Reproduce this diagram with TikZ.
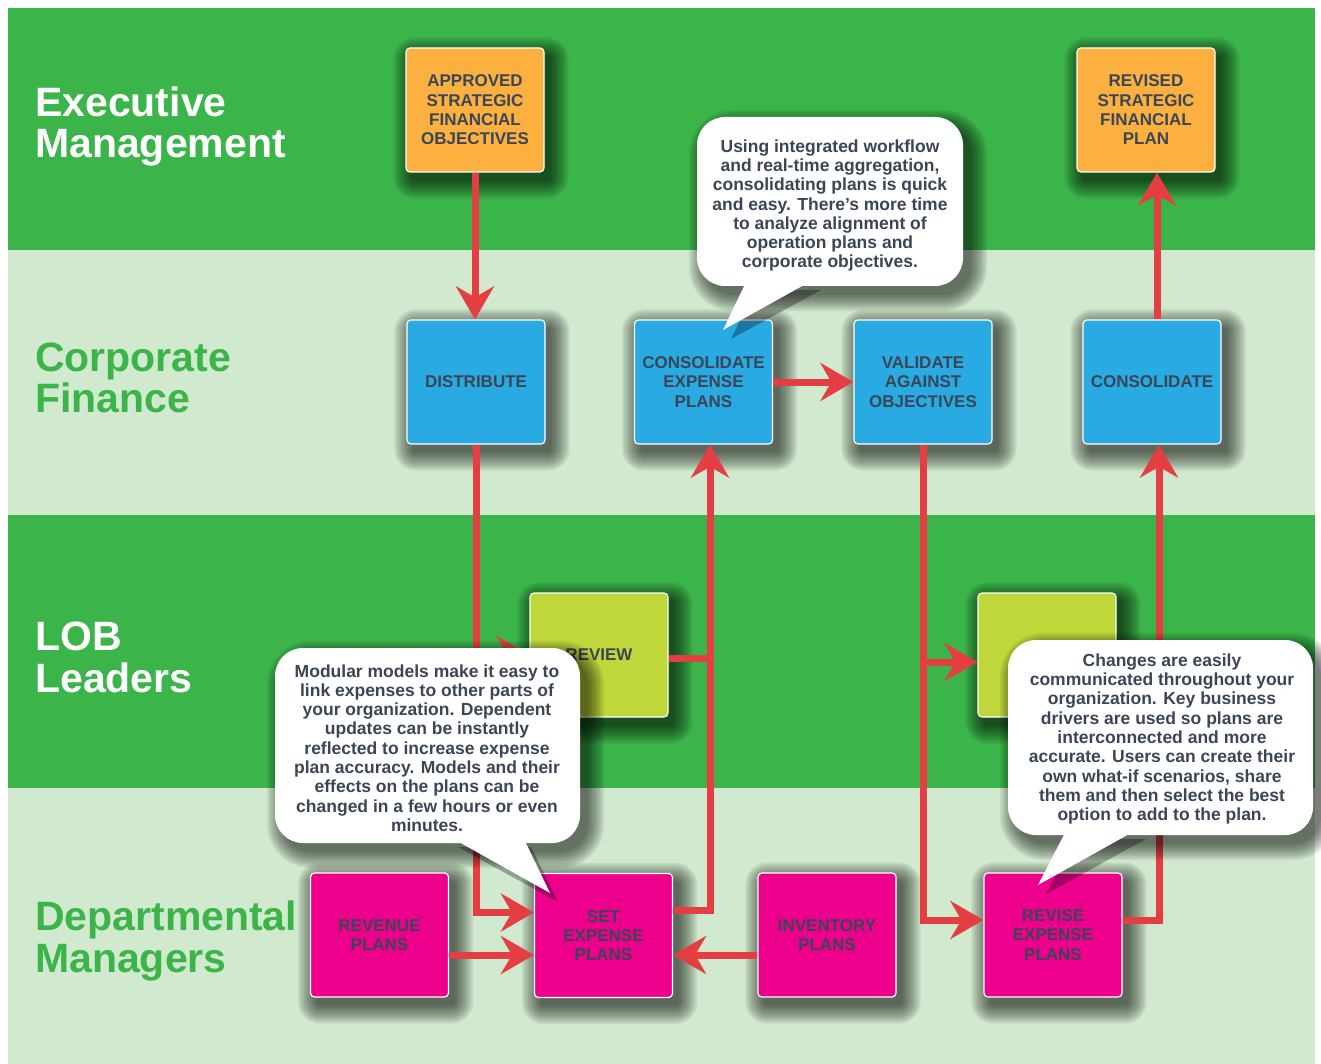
\documentclass[tikz,border=0pt]{standalone}
\usepackage{fontspec}
\setmainfont{Liberation Sans}
\newfontface\heavyfont{Liberation Sans Bold}
\newfontface\labelfont{Liberation Sans Bold}
\usetikzlibrary{arrows.meta,calc}

\definecolor{dkgreen}{RGB}{59,181,74}
\definecolor{ltgreen}{RGB}{209,233,206}
\definecolor{orangebox}{RGB}{251,176,64}
\definecolor{bluebox}{RGB}{41,170,226}
\definecolor{limebox}{RGB}{191,215,59}
\definecolor{magbox}{RGB}{236,0,140}
\definecolor{slate}{RGB}{58,70,86}
\definecolor{arrred}{RGB}{229,62,66}

\pgfdeclarelayer{lanes}
\pgfdeclarelayer{shadows}
\pgfsetlayers{lanes,shadows,main}

% soft shadow behind a named box
\newcommand\boxshadow[1]{%
  \begin{pgfonlayer}{shadows}
  \foreach \r in {0,2,...,18}{%
    \fill[shadowlayer, rounded corners=4pt+\r pt]
      ([xshift=6pt-\r pt,yshift=-8pt+\r pt]#1.north west) rectangle
      ([xshift=6pt+\r pt,yshift=-8pt-\r pt]#1.south east);}
  \end{pgfonlayer}}
% soft shadow of a callout rectangle (x0,y0,x1,y1 with y downwards)
\newcommand\bubbleshadow[4]{%
  \foreach \r in {0,2,...,16}{%
    \fill[shadowlayer, rounded corners=28pt+\r pt]
      (#1+8-\r,#2+9-\r) rectangle (#3+8+\r,#4+9+\r);}}

\begin{document}
\begin{tikzpicture}[x=1pt,y=-1pt,
  lane/.style={fill=#1, draw=none},
  lanelabel/.style={anchor=base west, inner sep=0pt, font=\labelfont\fontsize{41}{41}\selectfont, text=#1},
  stepbox/.style={draw=white, line width=1.2pt, rounded corners=4pt, fill=#1,
    minimum width=138pt, minimum height=124pt, inner sep=0pt, align=center,
    text=slate, font=\heavyfont\fontsize{17}{19.3}\selectfont},
  shadowlayer/.style={fill=black, opacity=0.075},
  flow/.style={draw=arrred, line width=7pt, -{Stealth[length=33pt,width=38pt,inset=11pt]}},
  joinline/.style={draw=arrred, line width=7pt},
  bubble/.style={fill=white, draw=none},
  bubbletext/.style={align=center, text=slate, inner sep=0pt, font=\heavyfont\fontsize{17.5}{19.3}\selectfont}
]
\useasboundingbox (0,0) rectangle (1321,1064);

% lanes
\begin{pgfonlayer}{lanes}
\fill[white] (0,0) rectangle (1321,1064);
\path[lane=dkgreen] (8,8) rectangle (1315,250);
\path[lane=ltgreen] (8,250) rectangle (1315,515);
\path[lane=dkgreen] (8,515) rectangle (1315,788);
\path[lane=ltgreen] (8,788) rectangle (1315,1064);
\end{pgfonlayer}

% lane labels
\node[lanelabel=white] (exec1) at (35,117) {Executive};
\node[lanelabel=white] (exec2) at (35,158) {Management};
\node[lanelabel=dkgreen] (corp1) at (35,371) {Corporate};
\node[lanelabel=dkgreen] (corp2) at (35,412) {Finance};
\node[lanelabel=white] (lob1) at (35,650) {LOB};
\node[lanelabel=white] (lob2) at (35,692) {Leaders};
\node[lanelabel=dkgreen] (dept1) at (35,930) {Departmental};
\node[lanelabel=dkgreen] (dept2) at (35,972) {Managers};

% boxes
\node[stepbox=orangebox] (appr) at (475,110) {APPROVED\\STRATEGIC\\FINANCIAL\\OBJECTIVES};
\node[stepbox=orangebox] (revd) at (1146,110) {REVISED\\STRATEGIC\\FINANCIAL\\PLAN};
\node[stepbox=bluebox] (dist) at (476,382) {DISTRIBUTE};
\node[stepbox=bluebox] (cexp) at (703.5,382) {CONSOLIDATE\\EXPENSE\\PLANS};
\node[stepbox=bluebox] (valid) at (923,382) {VALIDATE\\AGAINST\\OBJECTIVES};
\node[stepbox=bluebox] (cons) at (1152,382) {CONSOLIDATE};
\node[stepbox=limebox] (rev) at (599,655) {\raisebox{-5pt}{REVIEW}};
\node[stepbox=limebox] (lime2) at (1047,655) {};
\node[stepbox=magbox] (rvn) at (379.5,935) {REVENUE\\PLANS};
\node[stepbox=magbox] (setp) at (603.5,935.5) {SET\\EXPENSE\\PLANS};
\node[stepbox=magbox] (inv) at (827,935) {INVENTORY\\PLANS};
\node[stepbox=magbox] (rvs) at (1053,935) {REVISE\\EXPENSE\\PLANS};

\boxshadow{appr}\boxshadow{revd}\boxshadow{dist}\boxshadow{cexp}
\boxshadow{valid}\boxshadow{cons}\boxshadow{rev}\boxshadow{lime2}
\boxshadow{rvn}\boxshadow{setp}\boxshadow{inv}\boxshadow{rvs}

% helper coordinates
\coordinate (cxb) at ([xshift=6.5pt]cexp.south);
\coordinate (cxc) at ([xshift=7pt]cons.south);
\coordinate (rvnout) at ([yshift=-20pt]rvn.east);
\coordinate (invout) at ([yshift=-20pt]inv.west);
\coordinate (lime2in) at ([yshift=-7pt]lime2.west);
\coordinate (consup) at ([xshift=5pt]cons.north);

% connectors
\draw[flow] (appr.south) -- (appr.south |- dist.north);
\draw[flow] (dist.south) |- ([yshift=23pt]setp.west);
\draw[flow] (dist.south |- rev.west) -- (rev.west);
\draw[flow] (rvnout) -- (rvnout -| setp.west);
\draw[flow] (invout) -- (invout -| setp.east);
\draw[flow] ([yshift=25pt]setp.east) -| (cxb);
\draw[joinline] ([yshift=-3pt]rev.east) -- ([yshift=-3pt]rev.east -| cxb);
\draw[flow] (cexp.east) -- (valid.west);
\draw[flow] (valid.south) |- ([yshift=15pt]rvs.west);
\draw[flow] (valid.south |- lime2in) -- (lime2in);
\draw[flow] ([yshift=15pt]rvs.east) -| (cxc);
\draw[joinline] (lime2.east) -- (lime2.east -| cxc);
\draw[flow] (consup) -- (consup |- revd.south);

% callout A
\bubbleshadow{697}{117}{963}{286}
\fill[shadowlayer, opacity=0.3] (755,290) -- (731,339) -- (821,290) -- cycle;
\fill[bubble, rounded corners=28pt] (697,117) rectangle (963,286);
\fill[bubble] (747,280) -- (723,330) -- (813,280) -- cycle;
\node[bubbletext] (noteA) at (830,205.5) {Using integrated workflow\\and real-time aggregation,\\consolidating plans is quick\\and easy. There’s more time\\to analyze alignment of\\operation plans and\\corporate objectives.};

% callout B
\bubbleshadow{275}{648}{580}{843}
\fill[shadowlayer, opacity=0.3] (458,847) -- (558,902) -- (531,847) -- cycle;
\fill[bubble, rounded corners=28pt] (275,648) rectangle (580,843);
\fill[bubble] (450,837) -- (550,893) -- (523,837) -- cycle;
\node[bubbletext] (noteB) at (427,748) {Modular models make it easy to\\link expenses to other parts of\\your organization. Dependent\\updates can be instantly\\reflected to increase expense\\plan accuracy. Models and their\\effects on the plans can be\\changed in a few hours or even\\minutes.};

% callout C
\bubbleshadow{1008}{640}{1313}{835}
\fill[shadowlayer, opacity=0.3] (1075,839) -- (1046,894) -- (1146,839) -- cycle;
\fill[bubble, rounded corners=28pt] (1008,640) rectangle (1313,835);
\fill[bubble] (1067,829) -- (1038,885) -- (1138,829) -- cycle;
\node[bubbletext] (noteC) at (1162,739) {Changes are easily\\communicated throughout your\\organization. Key business\\drivers are used so plans are\\interconnected and more\\accurate. Users can create their\\own what-if scenarios, share\\them and then select the best\\option to add to the plan.};
\end{tikzpicture}
\end{document}
